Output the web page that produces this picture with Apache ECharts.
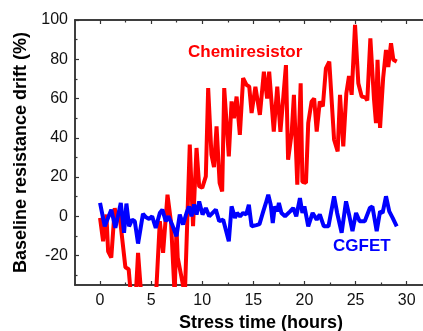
<!DOCTYPE html>
<html>
<head>
<meta charset="utf-8">
<script src="https://cdn.jsdelivr.net/npm/echarts@6/dist/echarts.min.js"></script>
<style>
  html, body { margin: 0; padding: 0; background: #fff; }
  #chart { width: 423px; height: 331px; }
</style>
</head>
<body>
<div id="chart"></div>
<script>
// chemiresistor drift (%) vs stress time (h)
const chemiT = [0, 0.3, 0.62, 0.79, 1.1, 1.44, 1.6, 1.83, 2.0, 2.48, 2.8, 3.1, 3.4, 3.72, 4.1, 4.6, 5.2, 5.5, 5.85, 6.17, 6.6, 6.95, 7.15, 7.3, 7.48, 7.6, 8.3, 8.78, 9.1, 9.44, 9.7, 10.0, 10.35, 10.58, 10.9, 11.15, 11.4, 11.7, 11.95, 12.15, 12.6, 12.87, 13.1, 13.36, 13.68, 14.0, 14.33, 14.6, 14.83, 15.2, 15.64, 16.03, 16.35, 16.55, 17.0, 17.34, 17.65, 18.19, 18.4, 18.75, 18.97, 19.3, 19.63, 19.8, 20.15, 20.37, 20.7, 20.95, 21.2, 21.5, 21.8, 22.1, 22.43, 22.9, 23.25, 23.48, 23.8, 24.1, 24.36, 24.62, 24.95, 25.27, 25.6, 25.95, 26.15, 26.45, 26.8, 27.0, 27.15, 27.4, 27.7, 27.98, 28.2, 28.47, 28.7, 29.03];
const chemiV = [-0.8, -12.7, 0.9, -17.8, -21, 4.2, -1.7, 0.9, -3.5, -26, -27, -45, -50, -18.6, -45, -55, -50, -38, -2.5, -18.6, 11, -3.3, -24.5, -40, -5.9, -21, -40, 36.5, -5, 34.8, 15.3, 14.5, 20.3, 65.3, 31.4, 25, 45.8, 17, 12.7, 65.3, 30.5, 58.5, 50, 61, 41.5, 70.4, 67, 66, 52.6, 66, 51.7, 73.7, 60, 73.7, 43.2, 66, 43, 77, 28.8, 42.4, 61.9, 16.1, 67.8, 17.5, 17, 47.5, 58.5, 60, 43.2, 58.5, 56, 75.4, 78.8, 39, 33, 61.9, 35.6, 62.7, 71.5, 61.9, 97.5, 67.8, 61, 60.6, 59, 90.7, 60, 47.5, 79.7, 45, 70.4, 84.7, 76, 88.2, 79.7, 78.8];

// CGFET drift (%) vs stress time (h)
const cgfetT = [0, 0.46, 1.1, 1.5, 2.03, 2.35, 2.58, 2.84, 3.14, 3.4, 3.72, 4.2, 4.5, 4.8, 5.1, 5.45, 5.85, 6.1, 6.43, 6.7, 7.05, 7.48, 7.8, 8.13, 8.46, 8.7, 8.95, 9.2, 9.45, 9.7, 10.03, 10.35, 10.68, 11.33, 11.66, 12.05, 12.6, 12.87, 13.2, 13.4, 13.7, 14.0, 14.3, 14.56, 14.83, 15.3, 15.6, 15.97, 16.23, 16.46, 16.7, 16.9, 17.1, 17.35, 17.5, 17.75, 18.1, 18.6, 18.9, 19.2, 19.56, 19.8, 20.0, 20.37, 20.8, 21.2, 21.5, 21.9, 22.35, 22.9, 23.2, 23.64, 24.07, 24.4, 24.7, 25.05, 25.4, 25.9, 26.4, 26.65, 27.07, 27.4, 27.65, 27.98, 28.3, 28.63, 29.03];
const cgfetV = [6.8, -5.1, 3.4, -5.9, 6.8, -8.4, 6.5, -5.1, -1.7, -2.5, -13.9, 1.2, -0.5, -1.3, 0, -5.9, 1.7, 3.4, -2.5, 0, -4.2, -10.2, 0.9, -4.2, 1.7, 5, 0, 6, 0.9, 7.6, 0.9, 4.2, 0, 3.4, -2.5, -1.7, -12.7, 5.1, -0.8, 1.7, 0, 1.7, 0.9, 5.9, -5.1, -4.5, -4.0, 2.5, 6.8, 11, 5.9, -3.4, 5, 2.5, 6.8, 1.7, 0, 2.5, 4.2, 0, 9.3, 1.7, 5, -5.1, 1.7, -1.7, 0.9, -5.1, -5.1, 10.2, 1.7, -8.4, 7.6, 0, -7.6, 1.7, -2.5, -2.5, 4.2, 5, -7.6, 2.5, 1.7, 10.2, 2.5, -0.8, -5.1];

const xMajor = [0, 5, 10, 15, 20, 25, 30];
const xMinor = [2.5, 7.5, 12.5, 17.5, 22.5, 27.5];
const yMajor = [-20, 0, 20, 40, 60, 80, 100];
const yMinor = [-30, -10, 10, 30, 50, 70, 90];

const zip = (a, b) => a.map((t, i) => [t, b[i]]);

const axisColor = '#333';
const font = 'Liberation Sans, Arial, sans-serif';

const xBase = {
  type: 'value', min: -2.45, max: 31.6,
  splitLine: { show: false },
  axisLine: { show: true, onZero: false, lineStyle: { color: axisColor, width: 1.5 } },
};
const yBase = {
  type: 'value', min: -35, max: 100,
  splitLine: { show: false },
  axisLine: { show: true, onZero: false, lineStyle: { color: axisColor, width: 1.5 } },
};

const chart = echarts.init(document.getElementById('chart'));
chart.setOption({
  animation: false,
  grid: { left: 75, top: 20, right: 0, bottom: 46, containLabel: false, outerBoundsMode: 'none' },
  xAxis: [
    {
      ...xBase, position: 'bottom',
      name: 'Stress time (hours)', nameLocation: 'middle', nameGap: 27,
      nameTextStyle: { fontFamily: font, fontSize: 18, fontWeight: 'bold', color: '#000', padding: [0, 0, 0, 24] },
      axisTick: { show: true, inside: true, length: 4, customValues: xMajor, lineStyle: { color: axisColor, width: 1.2 } },
      axisLabel: { customValues: xMajor, margin: 8, fontFamily: font, fontSize: 16, color: '#111' },
    },
    {
      ...xBase, position: 'bottom',
      axisTick: { show: true, inside: true, length: 2.5, customValues: xMinor, lineStyle: { color: axisColor, width: 1.2 } },
      axisLabel: { show: false },
    },
    {
      ...xBase, position: 'top',
      axisTick: { show: true, inside: true, length: 4, customValues: xMajor, lineStyle: { color: axisColor, width: 1.2 } },
      axisLabel: { show: false },
    },
    {
      ...xBase, position: 'top',
      axisTick: { show: true, inside: true, length: 2.5, customValues: xMinor, lineStyle: { color: axisColor, width: 1.2 } },
      axisLabel: { show: false },
    },
  ],
  yAxis: [
    {
      ...yBase, position: 'left',
      name: 'Baseline resistance drift (%)', nameLocation: 'middle', nameGap: 34,
      nameTextStyle: { fontFamily: font, fontSize: 18, fontWeight: 'bold', color: '#000' },
      axisTick: { show: true, inside: true, length: 4, customValues: yMajor, lineStyle: { color: axisColor, width: 1.2 } },
      axisLabel: { customValues: yMajor, margin: 7, fontFamily: font, fontSize: 16, color: '#111' },
    },
    {
      ...yBase, position: 'left',
      axisTick: { show: true, inside: true, length: 2.5, customValues: yMinor, lineStyle: { color: axisColor, width: 1.2 } },
      axisLabel: { show: false },
    },
  ],
  series: [
    {
      name: 'Chemiresistor', type: 'line', xAxisIndex: 0, yAxisIndex: 0,
      data: zip(chemiT, chemiV), showSymbol: false, clip: true,
      lineStyle: { color: '#ff0000', width: 4 },
    },
    {
      name: 'CGFET', type: 'line', xAxisIndex: 0, yAxisIndex: 0,
      data: zip(cgfetT, cgfetV), showSymbol: false, clip: true,
      lineStyle: { color: '#0000ff', width: 4 },
    },
  ],
  graphic: [
    { type: 'text', left: 188, top: 44, style: { text: 'Chemiresistor', fill: '#ff0000', font: 'bold 17px ' + font } },
    { type: 'text', left: 333, top: 238, style: { text: 'CGFET', fill: '#0000ff', font: 'bold 17px ' + font } },
  ],
});
</script>
</body>
</html>
